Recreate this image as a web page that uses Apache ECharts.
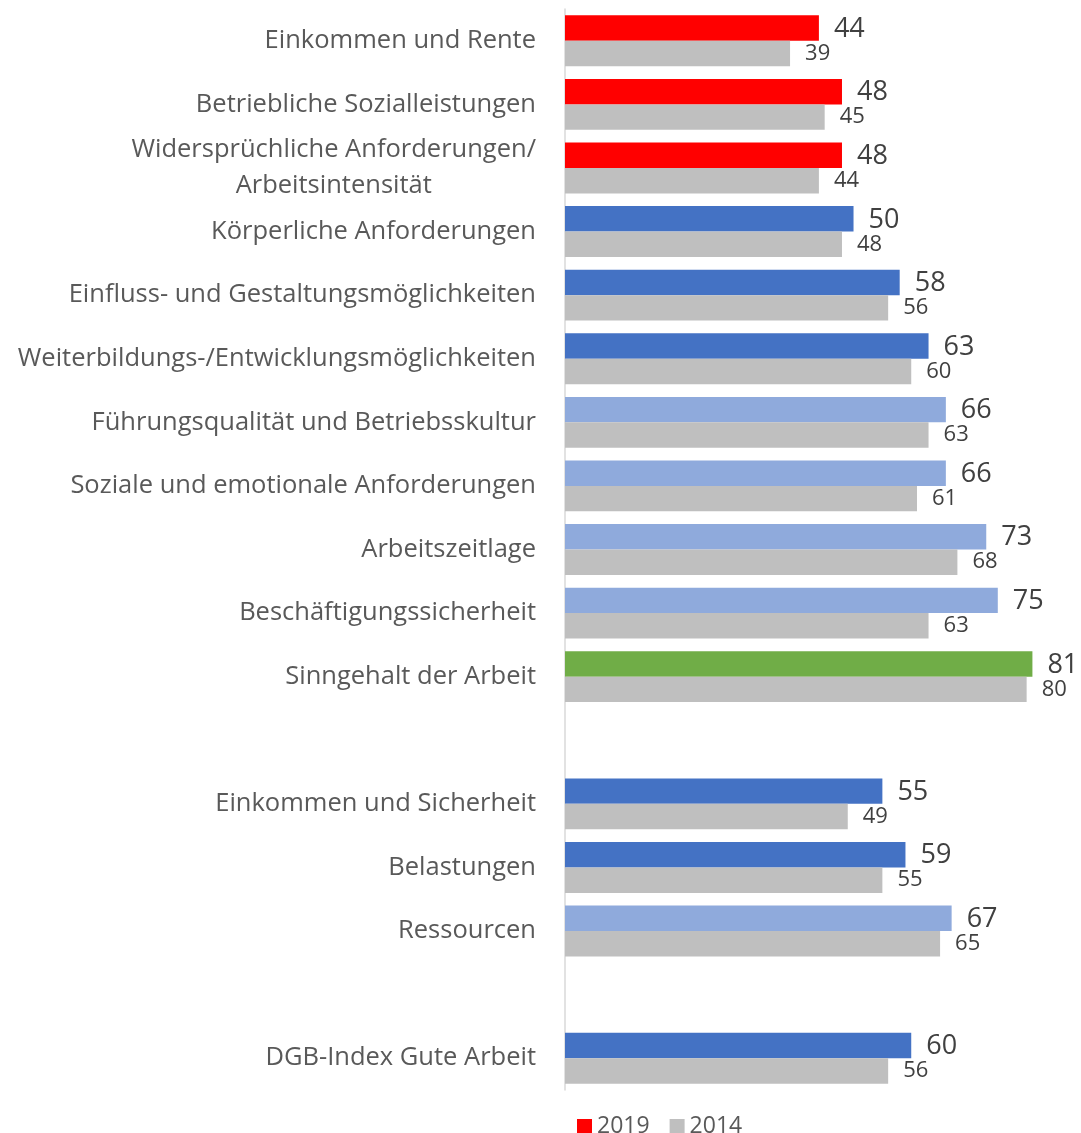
<!DOCTYPE html>
<html>
<head>
<meta charset="utf-8">
<script src="https://cdn.jsdelivr.net/npm/echarts@6/dist/echarts.min.js"></script>
<style>html,body{margin:0;padding:0;background:#fff}#c{width:1081px;height:1133px}</style>
</head>
<body>
<div id="c"></div>
<script>
const categories = [
  'Einkommen und Rente',
  'Betriebliche Sozialleistungen',
  'Widersprüchliche Anforderungen/\nArbeitsintensität',
  'Körperliche Anforderungen',
  'Einfluss- und Gestaltungsmöglichkeiten',
  'Weiterbildungs-/Entwicklungsmöglichkeiten',
  'Führungsqualität und Betriebsskultur',
  'Soziale und emotionale Anforderungen',
  'Arbeitszeitlage',
  'Beschäftigungssicherheit',
  'Sinngehalt der Arbeit',
  ' ',
  'Einkommen und Sicherheit',
  'Belastungen',
  'Ressourcen',
  '  ',
  'DGB-Index Gute Arbeit'
];
const values2019 = [44, 48, 48, 50, 58, 63, 66, 66, 73, 75, 81, null, 55, 59, 67, null, 60];
const values2014 = [39, 45, 44, 48, 56, 60, 63, 61, 68, 63, 80, null, 49, 55, 65, null, 56];
const seriesNames = ['2019', '2014'];

// DGB-Index rating bands -> colours
function ratingColor(v) {
  if (v < 50) return '#FF0000';
  if (v < 65) return '#4472C4';
  if (v < 80) return '#8FAADC';
  return '#70AD47';
}

const FONT = 'Open Sans';
const chart = echarts.init(document.getElementById('c'), null, {renderer: 'canvas'});
chart.setOption({
  animation: false,
  textStyle: {fontFamily: FONT},
  grid: {left: 565, right: 25.5, top: 9, bottom: 43, containLabel: false},
  legend: {
    left: 572, top: 1110, itemWidth: 15, itemHeight: 15, itemGap: 20, icon: 'rect',
    textStyle: {fontSize: 23, color: '#595959', fontFamily: FONT},
    data: [
      {name: seriesNames[0], itemStyle: {color: '#FF0000'}},
      {name: seriesNames[1], itemStyle: {color: '#BFBFBF'}}
    ]
  },
  xAxis: {
    type: 'value', min: 0, max: 85, show: false,
    splitLine: {show: false}
  },
  yAxis: {
    type: 'category', inverse: true, data: categories,
    axisLine: {show: true, lineStyle: {color: '#D9D9D9', width: 1.5}},
    axisTick: {show: false},
    axisLabel: {
      margin: 29, fontSize: 25.5, color: '#595959', fontFamily: FONT, lineHeight: 36,
      formatter: function (v) {
        if (v.indexOf('\n') >= 0) {
          return v.split('\n').map(function (s) { return '{c|' + s + '}'; }).join('\n');
        }
        return v;
      },
      rich: {c: {align: 'center', fontSize: 25.5, color: '#595959', fontFamily: FONT, lineHeight: 36}}
    }
  },
  series: [
    {
      name: seriesNames[0], type: 'bar', data: values2019,
      barGap: '0%', barCategoryGap: '20%',
      itemStyle: {color: function (p) { return ratingColor(p.value); }},
      label: {show: true, position: 'right', distance: 15, fontSize: 27, color: '#404040', fontFamily: FONT, offset: [0, 1]}
    },
    {
      name: seriesNames[1], type: 'bar', data: values2014,
      barGap: '0%', barCategoryGap: '20%',
      itemStyle: {color: '#BFBFBF'},
      label: {show: true, position: 'right', distance: 15, fontSize: 22, color: '#404040', fontFamily: FONT}
    }
  ]
});
</script>
</body>
</html>
